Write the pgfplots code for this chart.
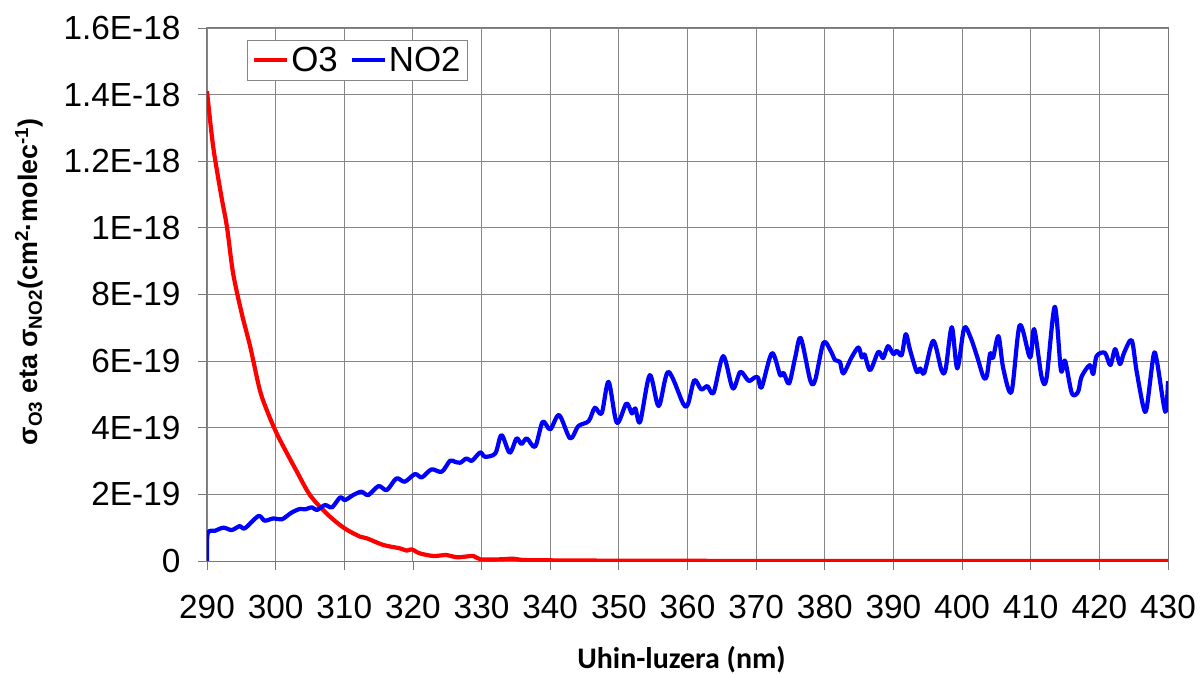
\documentclass[border=0pt]{standalone}
\usepackage{pgfplots}
\pgfplotsset{compat=1.18}
\usepackage{fontspec}
\setmainfont{Liberation Sans}
\newfontfamily\calibri{Carlito}
\definecolor{gridgray}{RGB}{134,134,134}
\definecolor{axgray}{RGB}{120,120,120}
% values in units of 1E-19 cm^2/molec
\begin{document}
\begin{tikzpicture}
\useasboundingbox (-207bp,-113bp) rectangle (993bp,561bp);
\begin{axis}[
  at={(0,0)}, anchor=south west,
  scale only axis, width=961bp, height=533bp,
  xmin=290, xmax=430, ymin=0, ymax=16,
  xtick={290,300,...,430},
  ytick={0,2,...,16},
  yticklabels={0,2E-19,4E-19,6E-19,8E-19,1E-18,1.2E-18,1.4E-18,1.6E-18},
  /pgf/number format/assume math mode=true,
  /pgf/number format/set thousands separator={},
  tick label style={font=\fontsize{33.5}{36}\selectfont},
  xticklabel style={yshift=-22bp},
  yticklabel style={xshift=-14bp},
  tick align=outside, tick pos=left,
  major tick length=9bp,
  tick style={axgray, line width=0.8bp},
  axis line style={axgray, line width=1bp},
  grid=major,
  major grid style={gridgray, line width=0.9bp},
  xlabel={\calibri\bfseries Uhin-luzera (nm)},
  xlabel style={font=\fontsize{30}{34}\selectfont, at={(axis description cs:0.5,0)}, anchor=center, yshift=-99bp, xshift=-6bp},
  ylabel={\bfseries σ\textsubscript{O3} eta σ\textsubscript{NO2}(cm\textsuperscript{2}·molec\textsuperscript{-1})},
  ylabel style={font=\fontsize{27}{30}\selectfont, at={(axis description cs:-0.1853,0.524)}, anchor=center},
  legend columns=2,
  legend style={at={(rel axis cs:0.0416,0.9775)}, anchor=north west,
    draw=gridgray, line width=0.8bp, fill=white,
    font=\fontsize{35}{38}\selectfont,
    inner xsep=5bp, inner ysep=5bp,
    /tikz/every even column/.append style={column sep=10bp}},
  legend image code/.code={\draw[#1, line width=4bp] (0bp,0bp) -- (33bp,0bp);},
  clip=true,
]
\addplot[red, line width=4.2bp, smooth, tension=0.5, line join=round] coordinates {
(290.0,14.1) (290.9,12.44) (292.1,10.94) (292.9,10.04) (293.8,8.64) (295.05,7.44)
(296.3,6.43) (297.7,5.13) (298.9,4.43) (300.15,3.83) (301.4,3.33) (303.1,2.68)
(305.0,1.98) (307.4,1.43) (309.9,1.0) (312.3,0.73) (313.3,0.68) (315.7,0.48)
(318.1,0.38) (319.1,0.31) (319.8,0.35) (321.0,0.23) (323.0,0.15) (324.9,0.18)
(326.4,0.11) (328.8,0.15) (329.8,0.05) (332.7,0.05) (334.6,0.07) (336.1,0.03)
(340,0.02) (350,0.01) (380,0.0) (430,0.0)
};
\addlegendentry{O3}
\addplot[blue, line width=4.2bp, smooth, tension=0.5, line join=round] coordinates {
(290.0,0) (290.1,0.83) (291.2,0.91) (292.4,1.0) (293.6,0.93) (294.8,1.05) (295.5,0.98)
(297.5,1.35) (298.4,1.21) (299.7,1.28) (300.9,1.25) (302.3,1.45) (303.5,1.56)
(304.3,1.55) (305.3,1.61) (306.0,1.53) (307.2,1.68) (308.2,1.61) (309.4,1.91)
(310.1,1.83) (311.3,1.98) (312.5,2.08) (313.5,1.98) (315.0,2.25) (316.2,2.13)
(317.6,2.48) (318.8,2.38) (320.3,2.61) (321.3,2.51) (322.7,2.75) (324.2,2.68)
(325.4,3.01) (326.1,2.98) (326.9,2.95) (327.8,3.08) (328.6,3.01) (329.8,3.26)
(330.5,3.13) (332.0,3.23) (332.9,3.78) (334.1,3.25) (335.1,3.68) (335.8,3.51)
(336.6,3.68) (337.8,3.43) (338.9,4.18) (340.0,3.95) (341.3,4.38) (342.9,3.68)
(344.1,4.05) (345.6,4.2) (346.5,4.6) (347.5,4.43) (348.5,5.38) (349.7,4.15)
(351.1,4.73) (351.9,4.43) (352.4,4.58) (353.1,4.18) (354.5,5.58) (355.8,4.65)
(357.2,5.68) (359.4,4.71) (360.1,4.73) (361.0,5.43) (362.0,5.15) (362.9,5.25)
(363.8,5.05) (365.2,6.15) (366.6,5.18) (367.7,5.68) (368.9,5.41) (369.8,5.51)
(370.3,5.50) (370.8,5.21) (372.3,6.24) (373.5,5.58) (374.0,5.65) (374.8,5.33)
(375.7,6.12) (376.5,6.69) (377.9,5.41) (378.6,5.43) (379.8,6.55) (380.8,6.33)
(381.5,6.03) (382.2,5.98) (382.7,5.63) (383.9,6.11) (384.9,6.41) (385.4,6.11)
(385.8,6.2) (386.6,5.73) (387.8,6.28) (388.5,6.09) (389.2,6.45) (390.0,6.21)
(390.5,6.31) (391.2,6.18) (391.8,6.81) (392.4,6.35) (393.4,5.68) (393.9,5.78)
(394.5,5.65) (395.8,6.61) (397.0,5.73) (397.6,5.75) (398.5,7.02) (399.3,5.78)
(400.3,6.99) (401.2,6.73) (402.2,6.13) (403.1,5.53) (403.6,5.55) (404.1,6.24)
(404.5,6.09) (405.3,6.75) (406.0,5.78) (407.2,5.08) (408.4,7.08) (409.9,6.11)
(410.5,6.96) (411.6,5.51) (412.3,5.48) (413.5,7.63) (414.4,5.73) (415.0,6.01)
(416.0,5.03) (416.9,5.08) (417.4,5.53) (418.6,5.88) (419.1,5.61) (419.6,6.15)
(420.8,6.25) (421.6,5.88) (422.3,6.36) (423.0,5.91) (423.6,6.25) (424.7,6.63)
(425.4,5.73) (426.4,4.63) (426.9,4.6) (427.9,6.18) (428.4,5.98) (429.6,4.48)
(430.0,5.4)
};
\addlegendentry{NO2}
\end{axis}
\end{tikzpicture}
\end{document}
